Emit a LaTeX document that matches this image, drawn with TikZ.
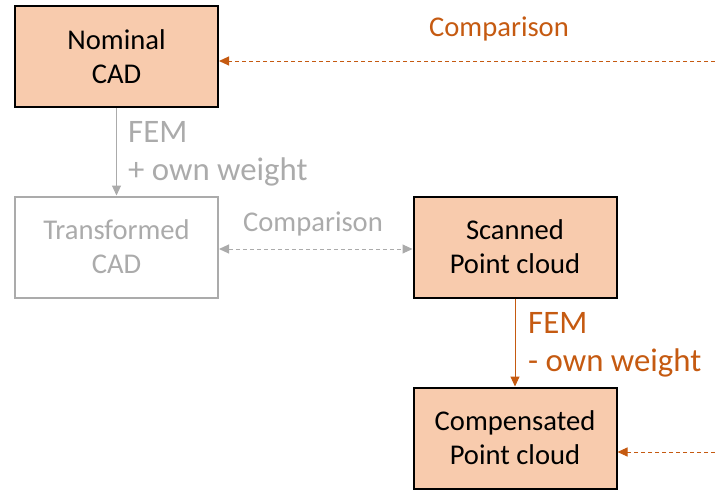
\documentclass[tikz,border=0pt]{standalone}
\usepackage{fontspec}
\setmainfont{Carlito}
\usepackage{tikz}
\usetikzlibrary{arrows.meta}

\definecolor{boxfill}{HTML}{F8CBAD}
\definecolor{darkorange}{HTML}{C55A11}
\definecolor{lightgrey}{HTML}{ABABAB}

\begin{document}
\begin{tikzpicture}[x=1pt,y=-1pt]
		% Styles for the boxes, arrows and labels
		\tikzset{stagebox/.style={draw=black, line width=2pt, fill=boxfill, align=center, minimum width=203pt, minimum height=101pt, font=\fontsize{28.6}{34.3}\selectfont},
			ghostbox/.style={stagebox, draw=lightgrey, fill=white, text=lightgrey},
			tri/.style={-{Triangle[length=10pt,width=9pt]}, line width=1pt},
			compare/.style={tri, dash pattern=on 4pt off 3pt},
			steplabel/.style={anchor=north west, inner sep=0pt, align=left, font=\fontsize{32.8}{38}\selectfont},
			comparelabel/.style={anchor=base, inner sep=0pt, font=\fontsize{28.6}{34.3}\selectfont}}
		
		\useasboundingbox (0,0) rectangle (715,490);
		
		% The four stages
		\node[stagebox] (nominal) at (116.5,56.5) {Nominal\\CAD};
		\node[ghostbox] (transformed) at (116.5,247) {Transformed\\CAD};
		\node[stagebox] (scanned) at (515,247) {Scanned\\Point cloud};
		\node[stagebox] (compensated) at (515,438) {Compensated\\Point cloud};
		
		% Loose ends of the comparison arrows on the right
		\coordinate (topend) at (715,61);
		\coordinate (botend) at (715,452);
		
		% FEM steps
		\draw[tri, lightgrey] (nominal.south) -- (transformed.north);
		\draw[tri, darkorange] (scanned.south) -- (compensated.north);
		\node[steplabel, text=lightgrey] (addweight) at (128,121) {FEM\\+ own weight};
		\node[steplabel, text=darkorange] (subweight) at (528,312) {FEM\\- own weight};
		
		% Comparisons
		\draw[compare, lightgrey, {Triangle[length=10pt,width=9pt]}-{Triangle[length=10pt,width=9pt]}] ([yshift=-2pt]transformed.east) -- ([yshift=-2pt]scanned.west);
		\node[comparelabel, text=lightgrey] (midcompare) at (313,231) {Comparison};
		\draw[compare, darkorange] (topend) -- (nominal.east |- topend);
		\node[comparelabel, text=darkorange] (topcompare) at (499,36) {Comparison};
		\draw[compare, darkorange] (botend) -- (compensated.east |- botend);
	\end{tikzpicture}
\end{document}
